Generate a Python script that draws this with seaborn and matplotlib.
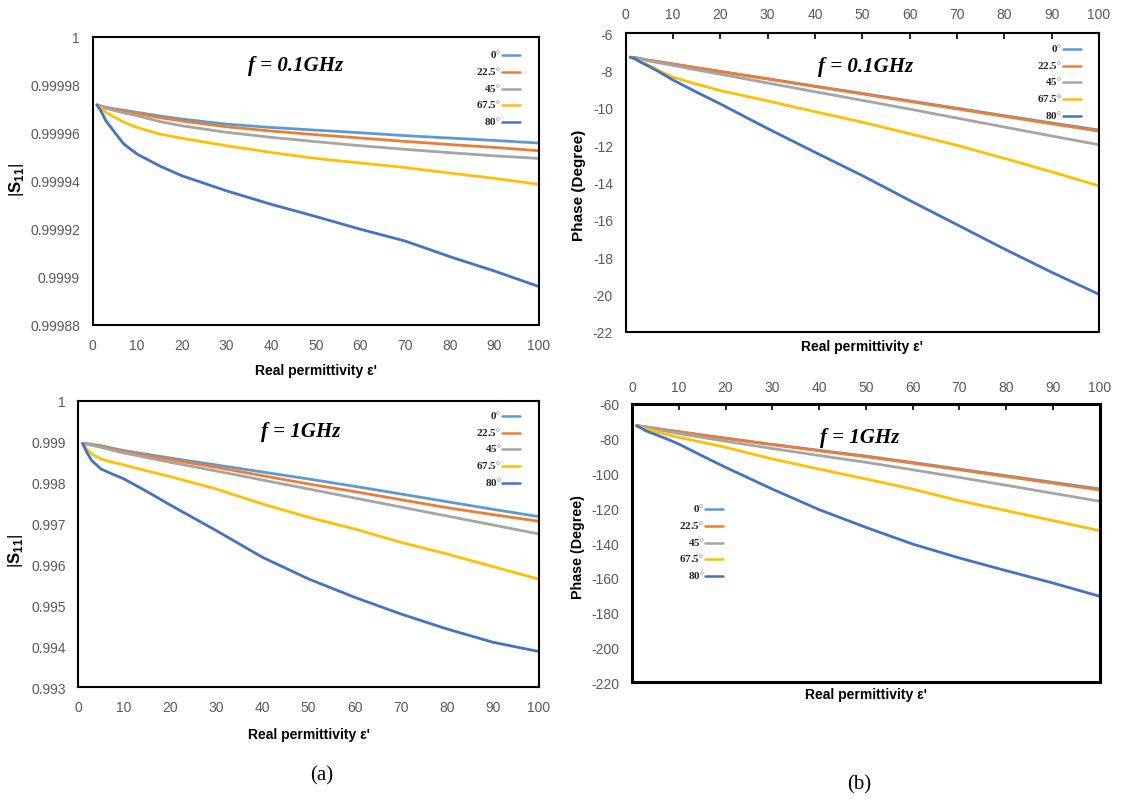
import matplotlib
matplotlib.use("Agg")
import matplotlib.pyplot as plt
from matplotlib.lines import Line2D
from matplotlib.ticker import FixedLocator, FuncFormatter
import numpy as np
import pandas as pd
import seaborn as sns

# Real permittivity sweep
eps = [1, 2, 3, 5, 7, 10, 15, 20, 30, 40, 50, 60, 70, 80, 90, 100]

# Incidence angles and their line colours
angles = ["0", "22.5", "45", "67.5", "80"]
colors = ["#5B9BD5", "#ED7D31", "#A5A5A5", "#FFC000", "#4472C4"]

# |S11| at f = 0.1 GHz
mag_low_0 = [0.9999717, 0.9999712, 0.9999707, 0.9999700, 0.9999695, 0.9999686, 0.9999671, 0.9999658,
             0.9999637, 0.9999623, 0.9999612, 0.9999601, 0.9999589, 0.9999579, 0.9999569, 0.9999558]
mag_low_22 = [0.9999717, 0.9999711, 0.9999705, 0.9999697, 0.9999691, 0.9999682, 0.9999664, 0.9999650,
              0.9999626, 0.9999608, 0.9999593, 0.9999579, 0.9999565, 0.9999552, 0.9999540, 0.9999526]
mag_low_45 = [0.9999717, 0.9999710, 0.9999703, 0.9999693, 0.9999684, 0.9999672, 0.9999648, 0.9999630,
              0.9999603, 0.9999582, 0.9999564, 0.9999547, 0.9999532, 0.9999518, 0.9999505, 0.9999494]
mag_low_67 = [0.9999717, 0.9999702, 0.9999686, 0.9999665, 0.9999645, 0.9999623, 0.9999596, 0.9999578,
              0.9999547, 0.9999519, 0.9999494, 0.9999475, 0.9999456, 0.9999433, 0.9999411, 0.9999386]
mag_low_80 = [0.9999717, 0.9999688, 0.9999651, 0.9999602, 0.9999554, 0.9999512, 0.9999463, 0.9999422,
              0.9999359, 0.9999303, 0.9999252, 0.9999199, 0.9999150, 0.9999085, 0.9999025, 0.9998960]

# Phase (degree) at f = 0.1 GHz
ph_low_0 = [-7.28, -7.30, -7.35, -7.44, -7.52, -7.64, -7.84, -8.04, -8.43, -8.83, -9.22, -9.62,
            -10.01, -10.41, -10.80, -11.18]
ph_low_22 = [-7.28, -7.30, -7.35, -7.45, -7.53, -7.65, -7.85, -8.05, -8.45, -8.85, -9.25, -9.65,
             -10.05, -10.45, -10.85, -11.24]
ph_low_45 = [-7.28, -7.32, -7.38, -7.48, -7.58, -7.72, -7.96, -8.19, -8.66, -9.13, -9.59, -10.06,
             -10.54, -11.02, -11.50, -11.97]
ph_low_67 = [-7.28, -7.40, -7.50, -7.72, -8.00, -8.35, -8.72, -9.07, -9.62, -10.20, -10.76, -11.38,
             -12.00, -12.70, -13.42, -14.17]
ph_low_80 = [-7.28, -7.36, -7.52, -7.78, -8.05, -8.50, -9.15, -9.78, -11.10, -12.37, -13.62, -14.95,
             -16.25, -17.55, -18.80, -19.98]

# |S11| at f = 1 GHz
mag_high_0 = [0.998958, 0.998950, 0.998934, 0.998901, 0.998850, 0.998779, 0.998690, 0.998600,
              0.998430, 0.998259, 0.998088, 0.997909, 0.997722, 0.997535, 0.997347, 0.997168]
mag_high_22 = [0.998958, 0.998945, 0.998926, 0.998885, 0.998830, 0.998755, 0.998657, 0.998560,
               0.998373, 0.998169, 0.997966, 0.997779, 0.997583, 0.997388, 0.997217, 0.997054]
mag_high_45 = [0.998958, 0.998938, 0.998910, 0.998861, 0.998800, 0.998722, 0.998609, 0.998495,
               0.998283, 0.998063, 0.997844, 0.997624, 0.997404, 0.997185, 0.996965, 0.996745]
mag_high_67 = [0.998958, 0.998800, 0.998698, 0.998576, 0.998510, 0.998430, 0.998283, 0.998145,
               0.997844, 0.997478, 0.997152, 0.996867, 0.996542, 0.996257, 0.995948, 0.995639]
mag_high_80 = [0.998958, 0.998720, 0.998535, 0.998332, 0.998230, 0.998088, 0.997779, 0.997453,
               0.996827, 0.996176, 0.995647, 0.995199, 0.994792, 0.994426, 0.994101, 0.993873]

# Phase (degree) at f = 1 GHz
ph_high_0 = [-72.5, -72.8, -73.2, -74.0, -74.8, -75.9, -77.8, -79.6, -83.2, -86.6, -89.9, -93.6,
             -97.4, -101.2, -105.0, -108.8]
ph_high_22 = [-72.5, -72.8, -73.2, -74.1, -74.9, -76.0, -77.9, -79.8, -83.4, -86.9, -90.3, -94.0,
              -97.8, -101.7, -105.5, -109.4]
ph_high_45 = [-72.5, -72.95, -73.5, -74.5, -75.5, -77.0, -79.2, -81.4, -85.6, -89.6, -93.5, -97.8,
              -102.2, -106.7, -111.3, -115.9]
ph_high_67 = [-72.5, -73.4, -74.3, -75.8, -77.2, -79.2, -82.0, -84.9, -91.6, -97.4, -103.1, -108.9,
              -115.6, -121.3, -127.0, -132.8]
ph_high_80 = [-72.5, -73.9, -75.5, -77.5, -79.6, -83.0, -89.8, -96.4, -108.9, -120.7, -130.9, -140.5,
              -148.5, -155.8, -162.9, -170.5]

sns.set_theme(style="white")
plt.rcParams["font.family"] = ["Liberation Sans", "DejaVu Sans"]
plt.rcParams["axes.unicode_minus"] = False
plt.rcParams["mathtext.fontset"] = "custom"
plt.rcParams["mathtext.rm"] = "Liberation Sans"
plt.rcParams["mathtext.bf"] = "Liberation Sans:bold"

W, H = 1123, 803
fig = plt.figure(figsize=(W / 100, H / 100), dpi=100)
fig.patch.set_facecolor("white")


def box(l, t, r, b):
    return [l / W, (H - b) / H, (r - l) / W, (b - t) / H]


def long_frame(series):
    rows = []
    for ang, vals in zip(angles, series):
        for x, v in zip(eps, vals):
            rows.append({"eps": x, "value": v, "angle": ang})
    return pd.DataFrame(rows)


panels = [
    dict(rect=box(92.5, 38, 539, 326), series=[mag_low_0, mag_low_22, mag_low_45, mag_low_67, mag_low_80],
         ylim=(0.99988, 1.0), ystep=0.00002, ydec=5, top=False, ylabel=r"$|\mathbf{S}_{\mathbf{11}}|$",
         ylsize=12, ylab_xy=(-0.150, 0.507), xlab_y=-0.132, title="f = 0.1GHz", title_xy=(0.455, 0.903),
         leg_xy=(0.957, 0.957), spine=1.5, xpad=9.5),
    dict(rect=box(625.5, 34.3, 1099, 333), series=[ph_low_0, ph_low_22, ph_low_45, ph_low_67, ph_low_80],
         ylim=(-22, -6), ystep=2, ydec=0, top=True, ylabel="Phase (Degree)",
         ylsize=11, ylab_xy=(-0.083, 0.495), xlab_y=-0.023, title="f = 0.1GHz", title_xy=(0.506, 0.89),
         leg_xy=(0.961, 0.968), spine=1.5, xpad=9),
    dict(rect=box(78, 401.7, 539, 688.3), series=[mag_high_0, mag_high_22, mag_high_45, mag_high_67, mag_high_80],
         ylim=(0.993, 1.0), ystep=0.001, ydec=3, top=False, ylabel=r"$|\mathbf{S}_{\mathbf{11}}|$",
         ylsize=12, ylab_xy=(-0.114, 0.48), xlab_y=-0.137, title="f = 1GHz", title_xy=(0.484, 0.894),
         leg_xy=(0.959, 0.968), spine=1.5, xpad=9.5),
    dict(rect=box(632, 405, 1099.5, 683.3), series=[ph_high_0, ph_high_22, ph_high_45, ph_high_67, ph_high_80],
         ylim=(-220, -60), ystep=20, ydec=0, top=True, ylabel="Phase (Degree)",
         ylsize=10.3, ylab_xy=(-0.100, 0.489), xlab_y=-0.018, title="f = 1GHz", title_xy=(0.486, 0.881),
         leg_xy=(0.195, 0.643), spine=2.2, xpad=7),
]

for p in panels:
    ax = fig.add_axes(p["rect"])
    df = long_frame(p["series"])
    sns.lineplot(data=df, x="eps", y="value", hue="angle", hue_order=angles, palette=colors,
                 linewidth=2.0, legend=False, errorbar=None, ax=ax)

    ax.set_xlim(0, 100)
    ax.set_ylim(*p["ylim"])
    ax.xaxis.set_major_locator(FixedLocator(np.arange(0, 101, 10)))
    y0, y1 = p["ylim"]
    n = int(round((y1 - y0) / p["ystep"]))
    ax.yaxis.set_major_locator(FixedLocator([y0 + i * p["ystep"] for i in range(n + 1)]))
    dec = p["ydec"]
    if dec:
        ax.yaxis.set_major_formatter(FuncFormatter(
            lambda v, pos, d=dec: f"{v:.{d}f}".rstrip("0").rstrip(".")))
    else:
        ax.yaxis.set_major_formatter(FuncFormatter(lambda v, pos: f"{v:.0f}"))

    for s in ax.spines.values():
        s.set_visible(True)
        s.set_color("black")
        s.set_linewidth(p["spine"])

    if p["top"]:
        ax.xaxis.tick_top()
        ax.xaxis.set_label_position("bottom")
    ax.tick_params(axis="both", direction="in", length=4.5, width=1.2, color="black",
                   labelcolor="#595959", labelsize=10)
    ax.tick_params(axis="x", pad=p["xpad"])
    ax.tick_params(axis="y", pad=9)

    ax.set_xlabel("Real permittivity ε'", fontsize=10, fontweight="bold", color="black")
    ax.xaxis.set_label_coords(0.5, p["xlab_y"])
    ax.xaxis.label.set_va("top")
    ax.set_ylabel(p["ylabel"], fontsize=p["ylsize"], fontweight="bold", color="black")
    ax.yaxis.set_label_coords(*p["ylab_xy"])

    ax.text(*p["title_xy"], p["title"], transform=ax.transAxes,
            ha="center", va="center", fontsize=15, fontstyle="italic", fontweight="bold",
            family=["Liberation Serif", "DejaVu Serif"], color="black")

    handles = [Line2D([], [], color=c, lw=1.8) for c in colors]
    labels = [a + r"$^{\circ}$" for a in angles]
    ax.legend(handles, labels, loc="upper right", bbox_to_anchor=p["leg_xy"], markerfirst=False,
              frameon=False, prop={"family": "Liberation Serif", "weight": "bold", "size": 8},
              handlelength=1.6, handletextpad=0.1, labelspacing=0.42, borderpad=0, borderaxespad=0)

fig.text(322 / W, 1 - 776 / H, "(a)", ha="center", va="center", fontsize=15,
         family=["Liberation Serif", "DejaVu Serif"], color="black")
fig.text(859 / W, 1 - 785 / H, "(b)", ha="center", va="center", fontsize=15,
         family=["Liberation Serif", "DejaVu Serif"], color="black")

fig.savefig("out.png", dpi=100, facecolor="white")
